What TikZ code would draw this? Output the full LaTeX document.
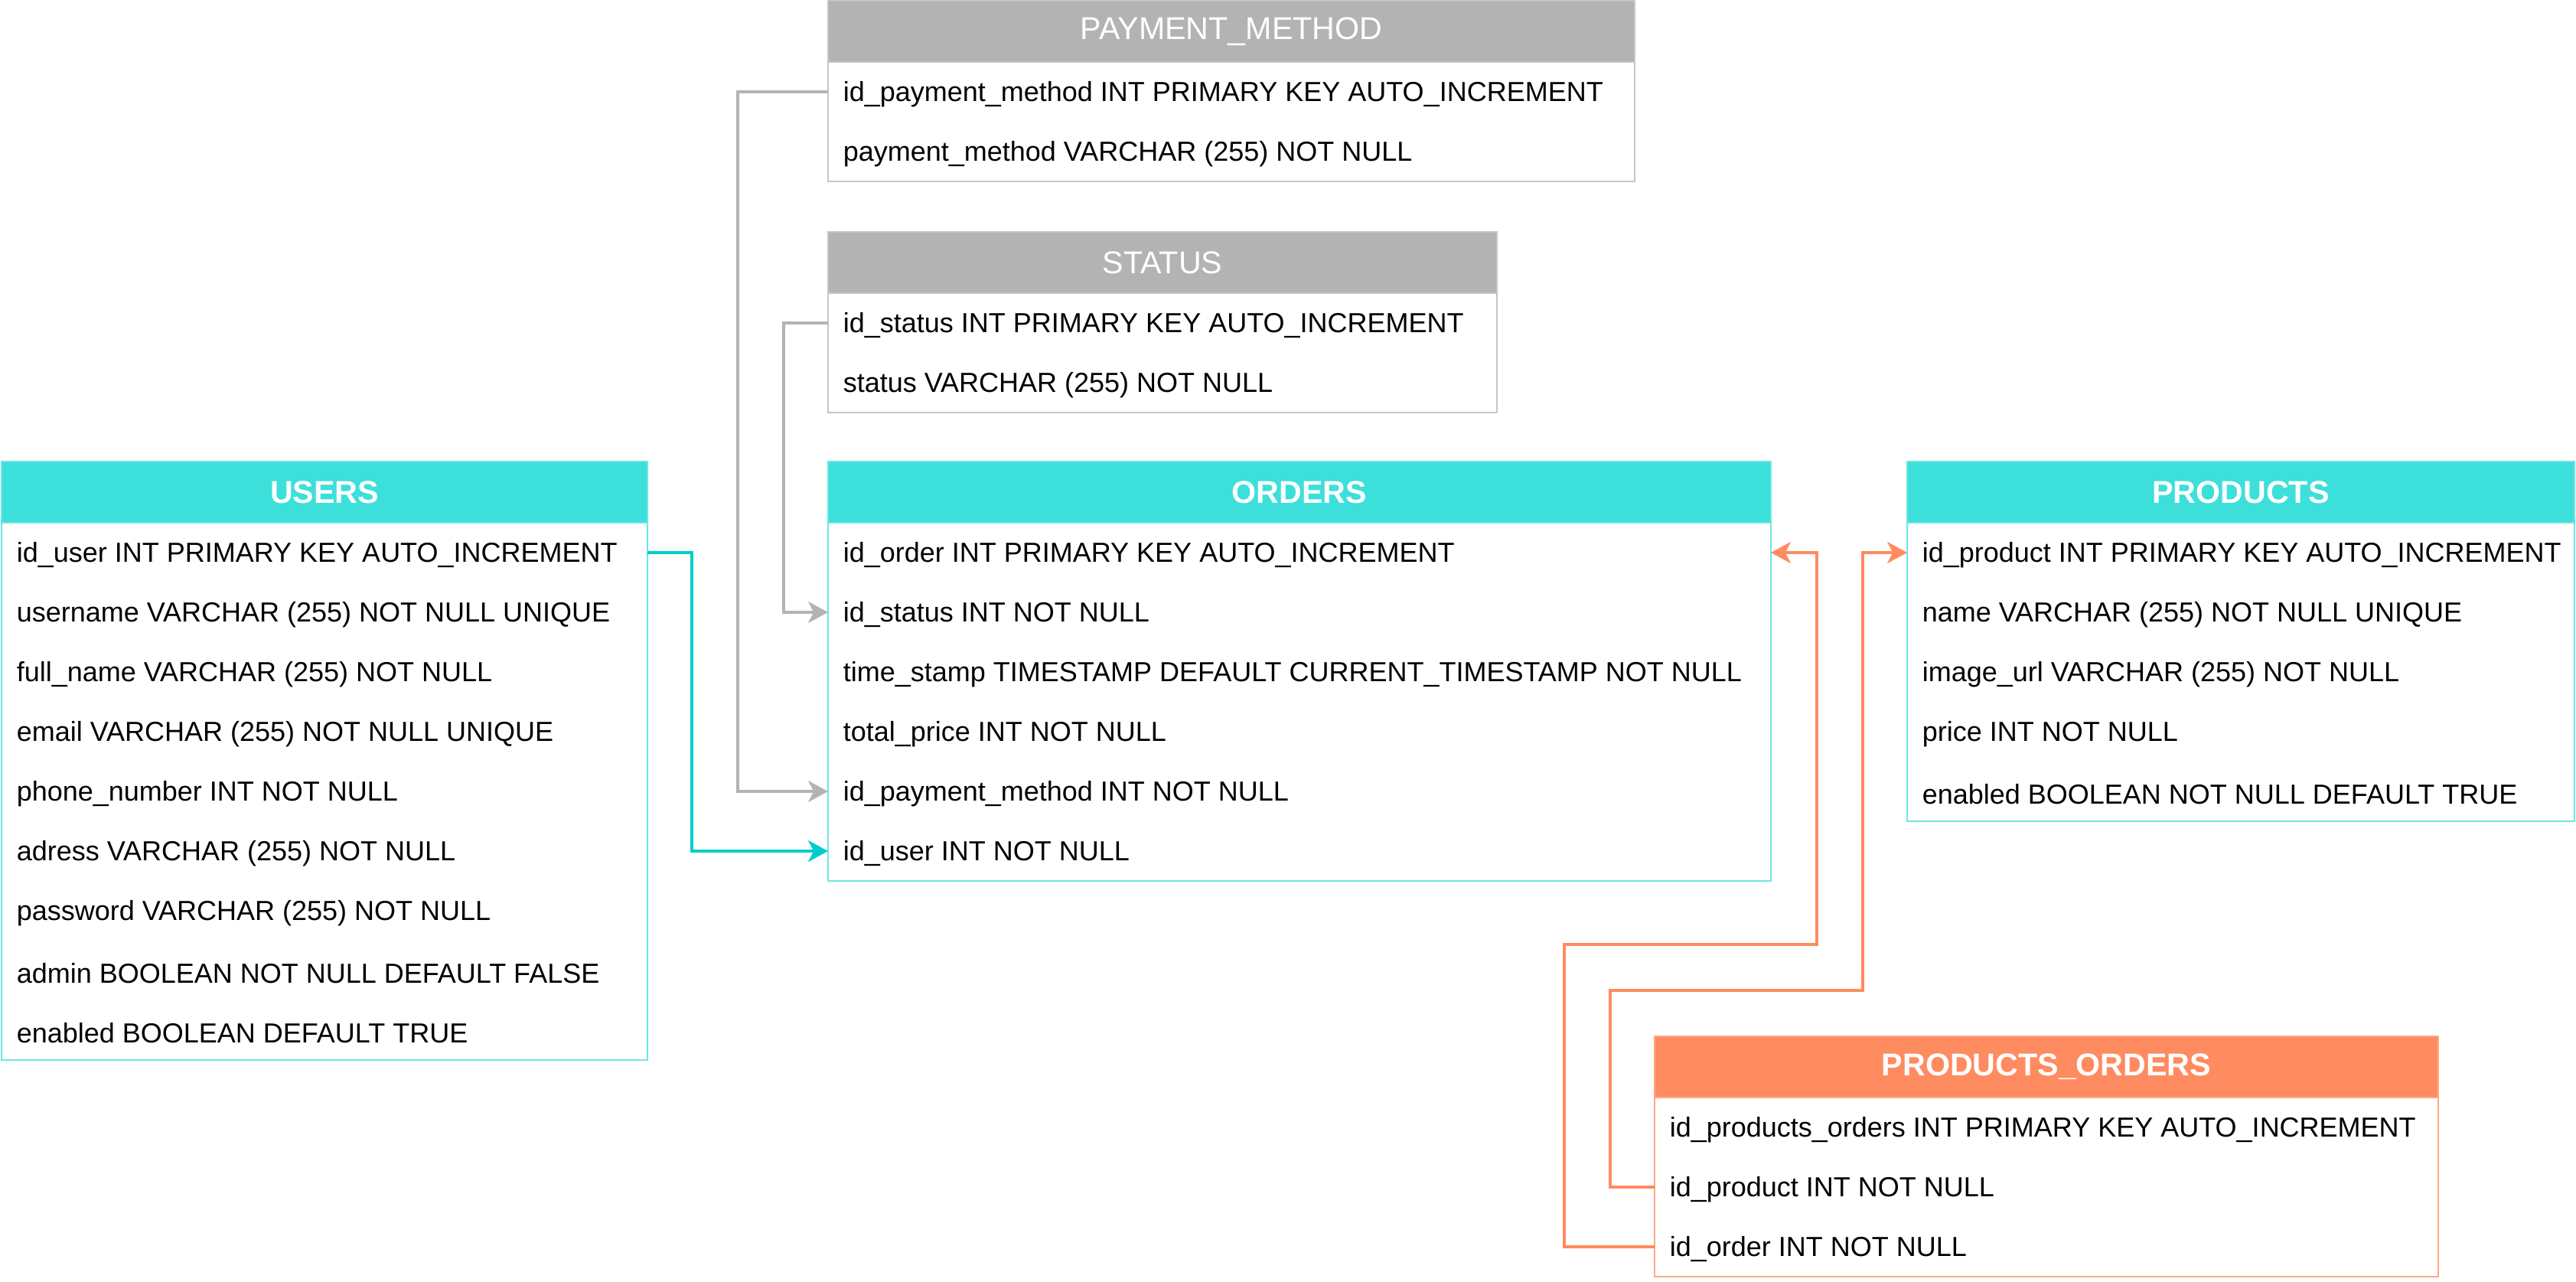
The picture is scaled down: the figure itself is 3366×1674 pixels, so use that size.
\documentclass[tikz,border=0pt]{standalone}
\usepackage{fontspec}
\setmainfont{Liberation Sans}
\usetikzlibrary{arrows.meta}

\definecolor{tealhead}{HTML}{3DDFDB}
\definecolor{tealwire}{HTML}{00CCCC}
\definecolor{greyhead}{HTML}{B3B3B3}
\definecolor{orangehead}{HTML}{FF8B60}

\tikzset{
  tblhead/.style={draw=#1!75!white, fill=#1, anchor=north west, minimum height=20pt,
    inner sep=0pt, outer sep=0pt, text=white, font=\fontsize{10.3}{12}\selectfont},
  tblrow/.style={anchor=north west, minimum height=19.5pt, inner sep=0pt, outer sep=0pt},
  rowtext/.style={anchor=west, inner xsep=4.75pt, inner ysep=0pt, yshift=-0.8pt, text=black,
    font=\fontsize{9}{11}\selectfont},
  tblline/.style={draw=#1!75!white, line width=0.6pt},
  fk/.style={draw=#1, line width=0.8pt,
    -{Stealth[length=6.5pt, width=7pt, inset=1.8pt]}}
}

\newcommand\erdtable[7]{%
  \node[tblhead=#5, minimum width=#4*0.25pt, alias=#1-0] (#1) at (#2,#3) {#6};
  \foreach \f [count=\i, remember=\i as \j (initially 0)] in {#7} {
    \node[tblrow, minimum width=#4*0.25pt, label={[rowtext]west:\f}] (#1-\i) at (#1-\j.south west) {};
    \xdef\lastrow{\i}
  }
  \draw[tblline=#5] (#1.north west) rectangle (#1-\lastrow.south east);
}

\begin{document}
\begin{tikzpicture}[x=0.25pt, y=-0.25pt]
  \useasboundingbox (0,0) rectangle (3366,1674);

  \erdtable{paymethod}{1082}{1}{1054}{greyhead}{PAYMENT\_METHOD}{%
    id\_payment\_method INT PRIMARY KEY AUTO\_INCREMENT,
    payment\_method VARCHAR (255) NOT NULL}
  \erdtable{status}{1082}{303}{874}{greyhead}{STATUS}{%
    id\_status INT PRIMARY KEY AUTO\_INCREMENT,
    status VARCHAR (255) NOT NULL}
  \erdtable{users}{2}{603}{844}{tealhead}{\textbf{USERS}}{%
    id\_user INT PRIMARY KEY AUTO\_INCREMENT,
    username VARCHAR (255) NOT NULL UNIQUE,
    full\_name VARCHAR (255) NOT NULL,
    email VARCHAR (255) NOT NULL UNIQUE,
    phone\_number INT NOT NULL,
    adress VARCHAR (255) NOT NULL,
    password VARCHAR (255) NOT NULL,
    admin BOOLEAN NOT NULL DEFAULT FALSE,
    enabled BOOLEAN DEFAULT TRUE}
  \erdtable{orders}{1082}{603}{1232}{tealhead}{\textbf{ORDERS}}{%
    id\_order INT PRIMARY KEY AUTO\_INCREMENT,
    id\_status INT NOT NULL,
    time\_stamp TIMESTAMP DEFAULT CURRENT\_TIMESTAMP NOT NULL,
    total\_price INT NOT NULL,
    id\_payment\_method INT NOT NULL,
    id\_user INT NOT NULL}
  \erdtable{products}{2492}{603}{872}{tealhead}{\textbf{PRODUCTS}}{%
    id\_product INT PRIMARY KEY AUTO\_INCREMENT,
    name VARCHAR (255) NOT NULL UNIQUE,
    image\_url VARCHAR (255) NOT NULL,
    price INT NOT NULL,
    enabled BOOLEAN NOT NULL DEFAULT TRUE}
  \erdtable{prodorders}{2162}{1354}{1024}{orangehead}{\textbf{PRODUCTS\_ORDERS}}{%
    id\_products\_orders INT PRIMARY KEY AUTO\_INCREMENT,
    id\_product INT NOT NULL,
    id\_order INT NOT NULL}

  \draw[fk=greyhead] (paymethod-1.west) -- ++(-118,0) |- (orders-5.west);
  \draw[fk=greyhead] (status-1.west) -- ++(-58,0) |- (orders-2.west);
  \draw[fk=tealwire] (users-1.east) -- ++(58,0) |- (orders-6.west);
  \draw[fk=orangehead] (prodorders-3.west) -- ++(-118,0) |- ++(330,-395) |- (orders-1.east);
  \draw[fk=orangehead] (prodorders-2.west) -- ++(-58,0) |- ++(330,-257) |- (products-1.west);
\end{tikzpicture}
\end{document}
